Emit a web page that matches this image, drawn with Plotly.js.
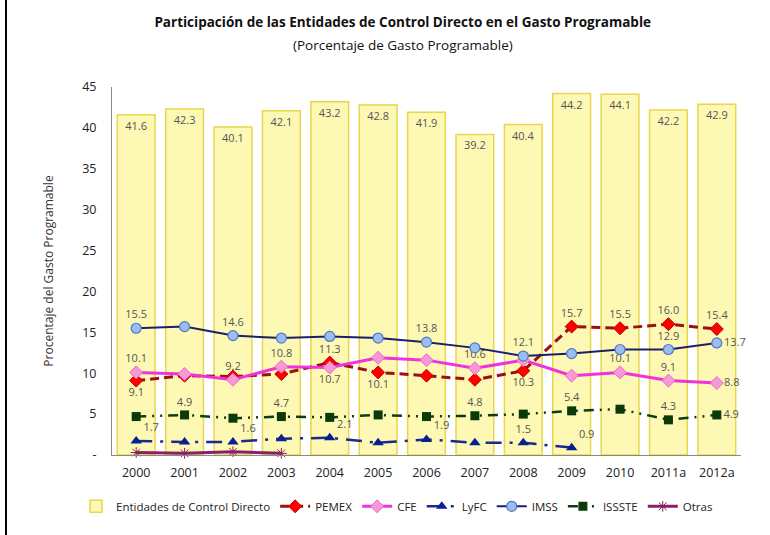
<!DOCTYPE html>
<html>
<head>
<meta charset="utf-8">
<script src="https://cdn.plot.ly/plotly-3.0.1.min.js"></script>
<style>
html,body{margin:0;padding:0;background:#fff;}
#wrap{position:relative;width:770px;height:535px;}
#chart{width:770px;height:535px;}
#edge{position:absolute;left:5px;top:0;width:2px;height:535px;background:#000;}
</style>
</head>
<body>
<div id="wrap"><div id="chart"></div><div id="edge"></div></div>
<script>
const years = ["2000","2001","2002","2003","2004","2005","2006","2007","2008","2009","2010","2011a","2012a"];
const entidades = [41.6,42.3,40.1,42.1,43.2,42.8,41.9,39.2,40.4,44.2,44.1,42.2,42.9];
const pemex = [9.1,9.7,9.6,9.9,11.3,10.1,9.7,9.2,10.3,15.7,15.5,16.0,15.4];
const cfe = [10.1,9.9,9.2,10.8,10.7,11.9,11.6,10.6,11.6,9.7,10.1,9.1,8.8];
const lyfc = [1.7,1.6,1.6,2.0,2.1,1.5,1.9,1.5,1.5,0.9,null,null,null];
const imss = [15.5,15.7,14.6,14.3,14.5,14.3,13.8,13.1,12.1,12.4,12.9,12.9,13.7];
const issste = [4.7,4.9,4.5,4.7,4.6,4.9,4.7,4.8,5.0,5.4,5.6,4.3,4.9];
const otras = [0.3,0.2,0.4,0.2,null,null,null,null,null,null,null,null,null];

const pemexShown = [1,0,0,0,1,1,0,0,1,1,1,1,1];
const pemexPos = ["bottom center","","","","top center","bottom center","","","bottom center","top center","top center","top center","top center"];
const cfeShown = [1,0,1,1,1,0,0,1,0,0,1,1,1];
const cfePos = ["top center","","top center","top center","bottom center","","","top center","","","top center","top center","middle right"];
const lyfcShown = [1,0,1,0,1,0,1,0,1,1,0,0,0];
const lyfcPos = ["top right","","top right","","top right","","top right","","top center","top right","","",""];
const imssShown = [1,0,1,0,0,0,1,0,1,0,0,1,1];
const imssPos = ["top center","","top center","","","","top center","","top center","","","top center","middle right"];
const issteShown = [0,1,0,1,0,0,0,1,0,1,0,1,1];
const issstePos = ["","top center","","top center","","","","top center","","top center","","top center","middle right"];

function lbl(vals, shown){return vals.map((v,i)=> (shown[i] && v!=null) ? v.toFixed(1) : "");}
function pos(p){return p.map(s=> s===""?"top center":s);}

const labelFont = {family:"Open Sans, sans-serif", size:11, color:"#555"};

const traces = [
 {type:"bar", name:"Entidades de Control Directo", x:years, y:entidades, width:0.78,
  marker:{color:"#fdf8b4", line:{color:"#e9d64c", width:1.5}},
  text:entidades.map(v=>v.toFixed(1)), textposition:"inside", insidetextanchor:"end",
  textfont:labelFont, cliponaxis:false},
 {type:"scatter", mode:"lines+markers+text", name:"PEMEX", x:years, y:pemex,
  line:{color:"#9b1010", width:3, dash:"9px,5px"},
  marker:{symbol:"diamond", size:10, color:"#ff0000", line:{color:"#c00000", width:1}},
  text:lbl(pemex,pemexShown), textposition:pos(pemexPos), textfont:labelFont, cliponaxis:false},
 {type:"scatter", mode:"lines+markers+text", name:"CFE", x:years, y:cfe,
  line:{color:"#ee33dd", width:3},
  marker:{symbol:"diamond", size:10, color:"#f59ad6", line:{color:"#ee66cc", width:1}},
  text:lbl(cfe,cfeShown), textposition:pos(cfePos), textfont:labelFont, cliponaxis:false},
 {type:"scatter", mode:"lines+markers+text", name:"LyFC", x:years, y:lyfc,
  line:{color:"#1c2a8a", width:2.5, dash:"16px,8px,3px,8px"},
  marker:{symbol:"triangle-up", size:10, color:"#0a1f8f"},
  text:lbl(lyfc,lyfcShown), textposition:pos(lyfcPos), textfont:labelFont, cliponaxis:false},
 {type:"scatter", mode:"lines+markers+text", name:"IMSS", x:years, y:imss,
  line:{color:"#1c1f66", width:2},
  marker:{symbol:"circle", size:10, color:"#9dbdf0", line:{color:"#4f79c8", width:1.2}},
  text:lbl(imss,imssShown), textposition:pos(imssPos), textfont:labelFont, cliponaxis:false},
 {type:"scatter", mode:"lines+markers+text", name:"ISSSTE", x:years, y:issste,
  line:{color:"#0e3d12", width:2.5, dash:"10px,6px,2px,6px,2px,6px"},
  marker:{symbol:"square", size:9, color:"#0a3a0a"},
  text:lbl(issste,issteShown), textposition:pos(issstePos), textfont:labelFont, cliponaxis:false},
 {type:"scatter", mode:"lines+markers", name:"Otras", x:years, y:otras,
  line:{color:"#8a1f6a", width:3},
  marker:{symbol:"asterisk-open", size:9, color:"#8a1f6a", line:{color:"#8a1f6a", width:1}},
  cliponaxis:false}
];

const tickVals = [0,5,10,15,20,25,30,35,40,45];
const tickText = ["-","5","10","15","20","25","30","35","40","45"];

const layout = {
 width:770, height:535,
 margin:{l:112, r:29, t:87, b:80},
 paper_bgcolor:"#fff", plot_bgcolor:"#fff",
 font:{family:"Open Sans, sans-serif", color:"#333"},
 title:{text:"<b>Participación de las Entidades de Control Directo en el Gasto Programable</b>",
   font:{size:13.5, color:"#111"}, x:0.523, xref:"container", xanchor:"center",
   y:1-22/535, yref:"container", yanchor:"middle"},
 annotations:[{text:"(Porcentaje de Gasto Programable)", xref:"paper", yref:"paper",
   x:(403-112)/629, y:(455-45)/368, xanchor:"center", yanchor:"middle", showarrow:false,
   font:{size:13.5, color:"#111"}}],
 xaxis:{type:"category", range:[-0.5,12.5], showgrid:false, zeroline:false,
   showline:true, linecolor:"#888", linewidth:1, ticks:"", tickfont:{size:12.5, color:"#222"},
   ticklabelstandoff:6},
 yaxis:{range:[0,45], tickvals:tickVals, ticktext:tickText, showgrid:false, zeroline:false,
   showline:true, linecolor:"#888", linewidth:1, ticks:"", tickfont:{size:12.5, color:"#222"},
   ticklabelstandoff:12,
   title:{text:"Procentaje del Gasto Programable", font:{size:12, color:"#333"}, standoff:26}},
 showlegend:true,
 legend:{orientation:"h", x:(76-112)/629, xanchor:"left",
   y:-0.1, yanchor:"top",
   font:{size:11.5, color:"#222"}, itemwidth:30, tracegroupgap:0, itemclick:false},
 bargap:0.22,
 hovermode:false
};

Plotly.newPlot("chart", traces, layout, {displayModeBar:false, staticPlot:true});
</script>
</body>
</html>
